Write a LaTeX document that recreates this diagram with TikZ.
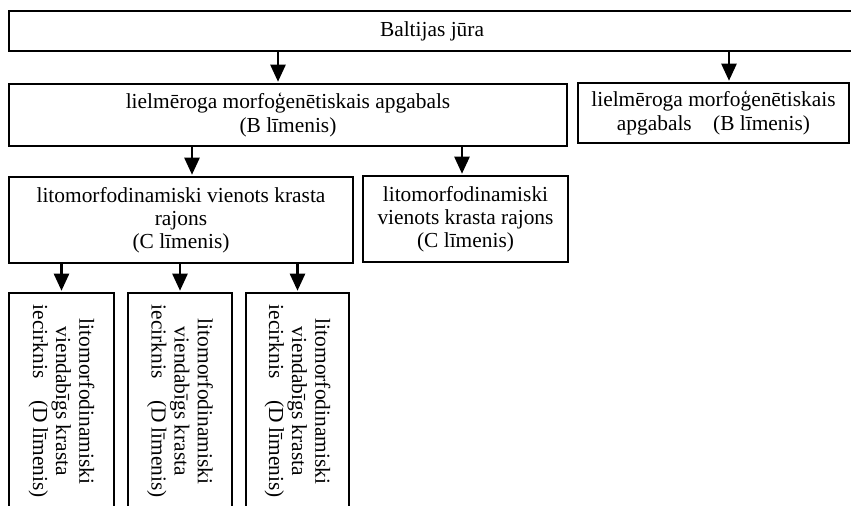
\documentclass[tikz,border=0pt]{standalone}
\usepackage{fontspec}
\setmainfont{Liberation Serif}
\usetikzlibrary{arrows.meta}

\begin{document}
\begin{tikzpicture}[x=0.5pt,y=-0.5pt,
	box/.style={draw, line width=0.65pt, align=center, inner sep=0pt, font=\fontsize{10.7}{11.6}\selectfont},
	arr/.style={line width=1.2pt, shorten >=0.8pt, -{Triangle[width=7.5pt,length=8.5pt]}}]
			\clip (0,0) rectangle (851,506);
			\node[box, minimum width=423pt, minimum height=20pt] (sea) at (432,31) {Baltijas jūra};
			\node[box, minimum width=279pt, minimum height=31pt] (regB1) at (288,115) {lielmēroga morfoģenētiskais apgabals\\(B līmenis)};
			\node[box, minimum width=135.5pt, minimum height=30pt] (regB2) at (713.5,113) {lielmēroga morfoģenētiskais\\apgabals\quad (B līmenis)};
			\node[box, minimum width=172pt, minimum height=43pt] (distC1) at (181,220) {litomorfodinamiski vienots krasta\\rajons\\(C līmenis)};
			\node[box, minimum width=102.5pt, minimum height=43pt] (distC2) at (465.5,219) {litomorfodinamiski\\vienots krasta rajons\\(C līmenis)};
			\node[box, rotate=-90, minimum width=108.5pt, minimum height=52.5pt] (secD1) at (61.5,401.5) {litomorfodinamiski\\viendabīgs krasta\\iecirknis\quad (D līmenis)};
			\node[box, rotate=-90, minimum width=108.5pt, minimum height=52pt] (secD2) at (180,401.5) {litomorfodinamiski\\viendabīgs krasta\\iecirknis\quad (D līmenis)};
			\node[box, rotate=-90, minimum width=108.5pt, minimum height=51.5pt] (secD3) at (297.5,401.5) {litomorfodinamiski\\viendabīgs krasta\\iecirknis\quad (D līmenis)};
			\draw[arr] ([xshift=-5pt]regB1.north |- sea.south) -- ([xshift=-5pt]regB1.north);
			\draw[arr] ([xshift=7.75pt]regB2.north |- sea.south) -- ([xshift=7.75pt]regB2.north);
			\draw[arr] ([xshift=5.5pt]distC1.north |- regB1.south) -- ([xshift=5.5pt]distC1.north);
			\draw[arr] ([xshift=-1.75pt]distC2.north |- regB1.south) -- ([xshift=-1.75pt]distC2.north);
			\draw[arr] (secD1.west |- distC1.south) -- (secD1.west);
			\draw[arr] (secD2.west |- distC1.south) -- (secD2.west);
			\draw[arr] (secD3.west |- distC1.south) -- (secD3.west);
		\end{tikzpicture}
\end{document}
